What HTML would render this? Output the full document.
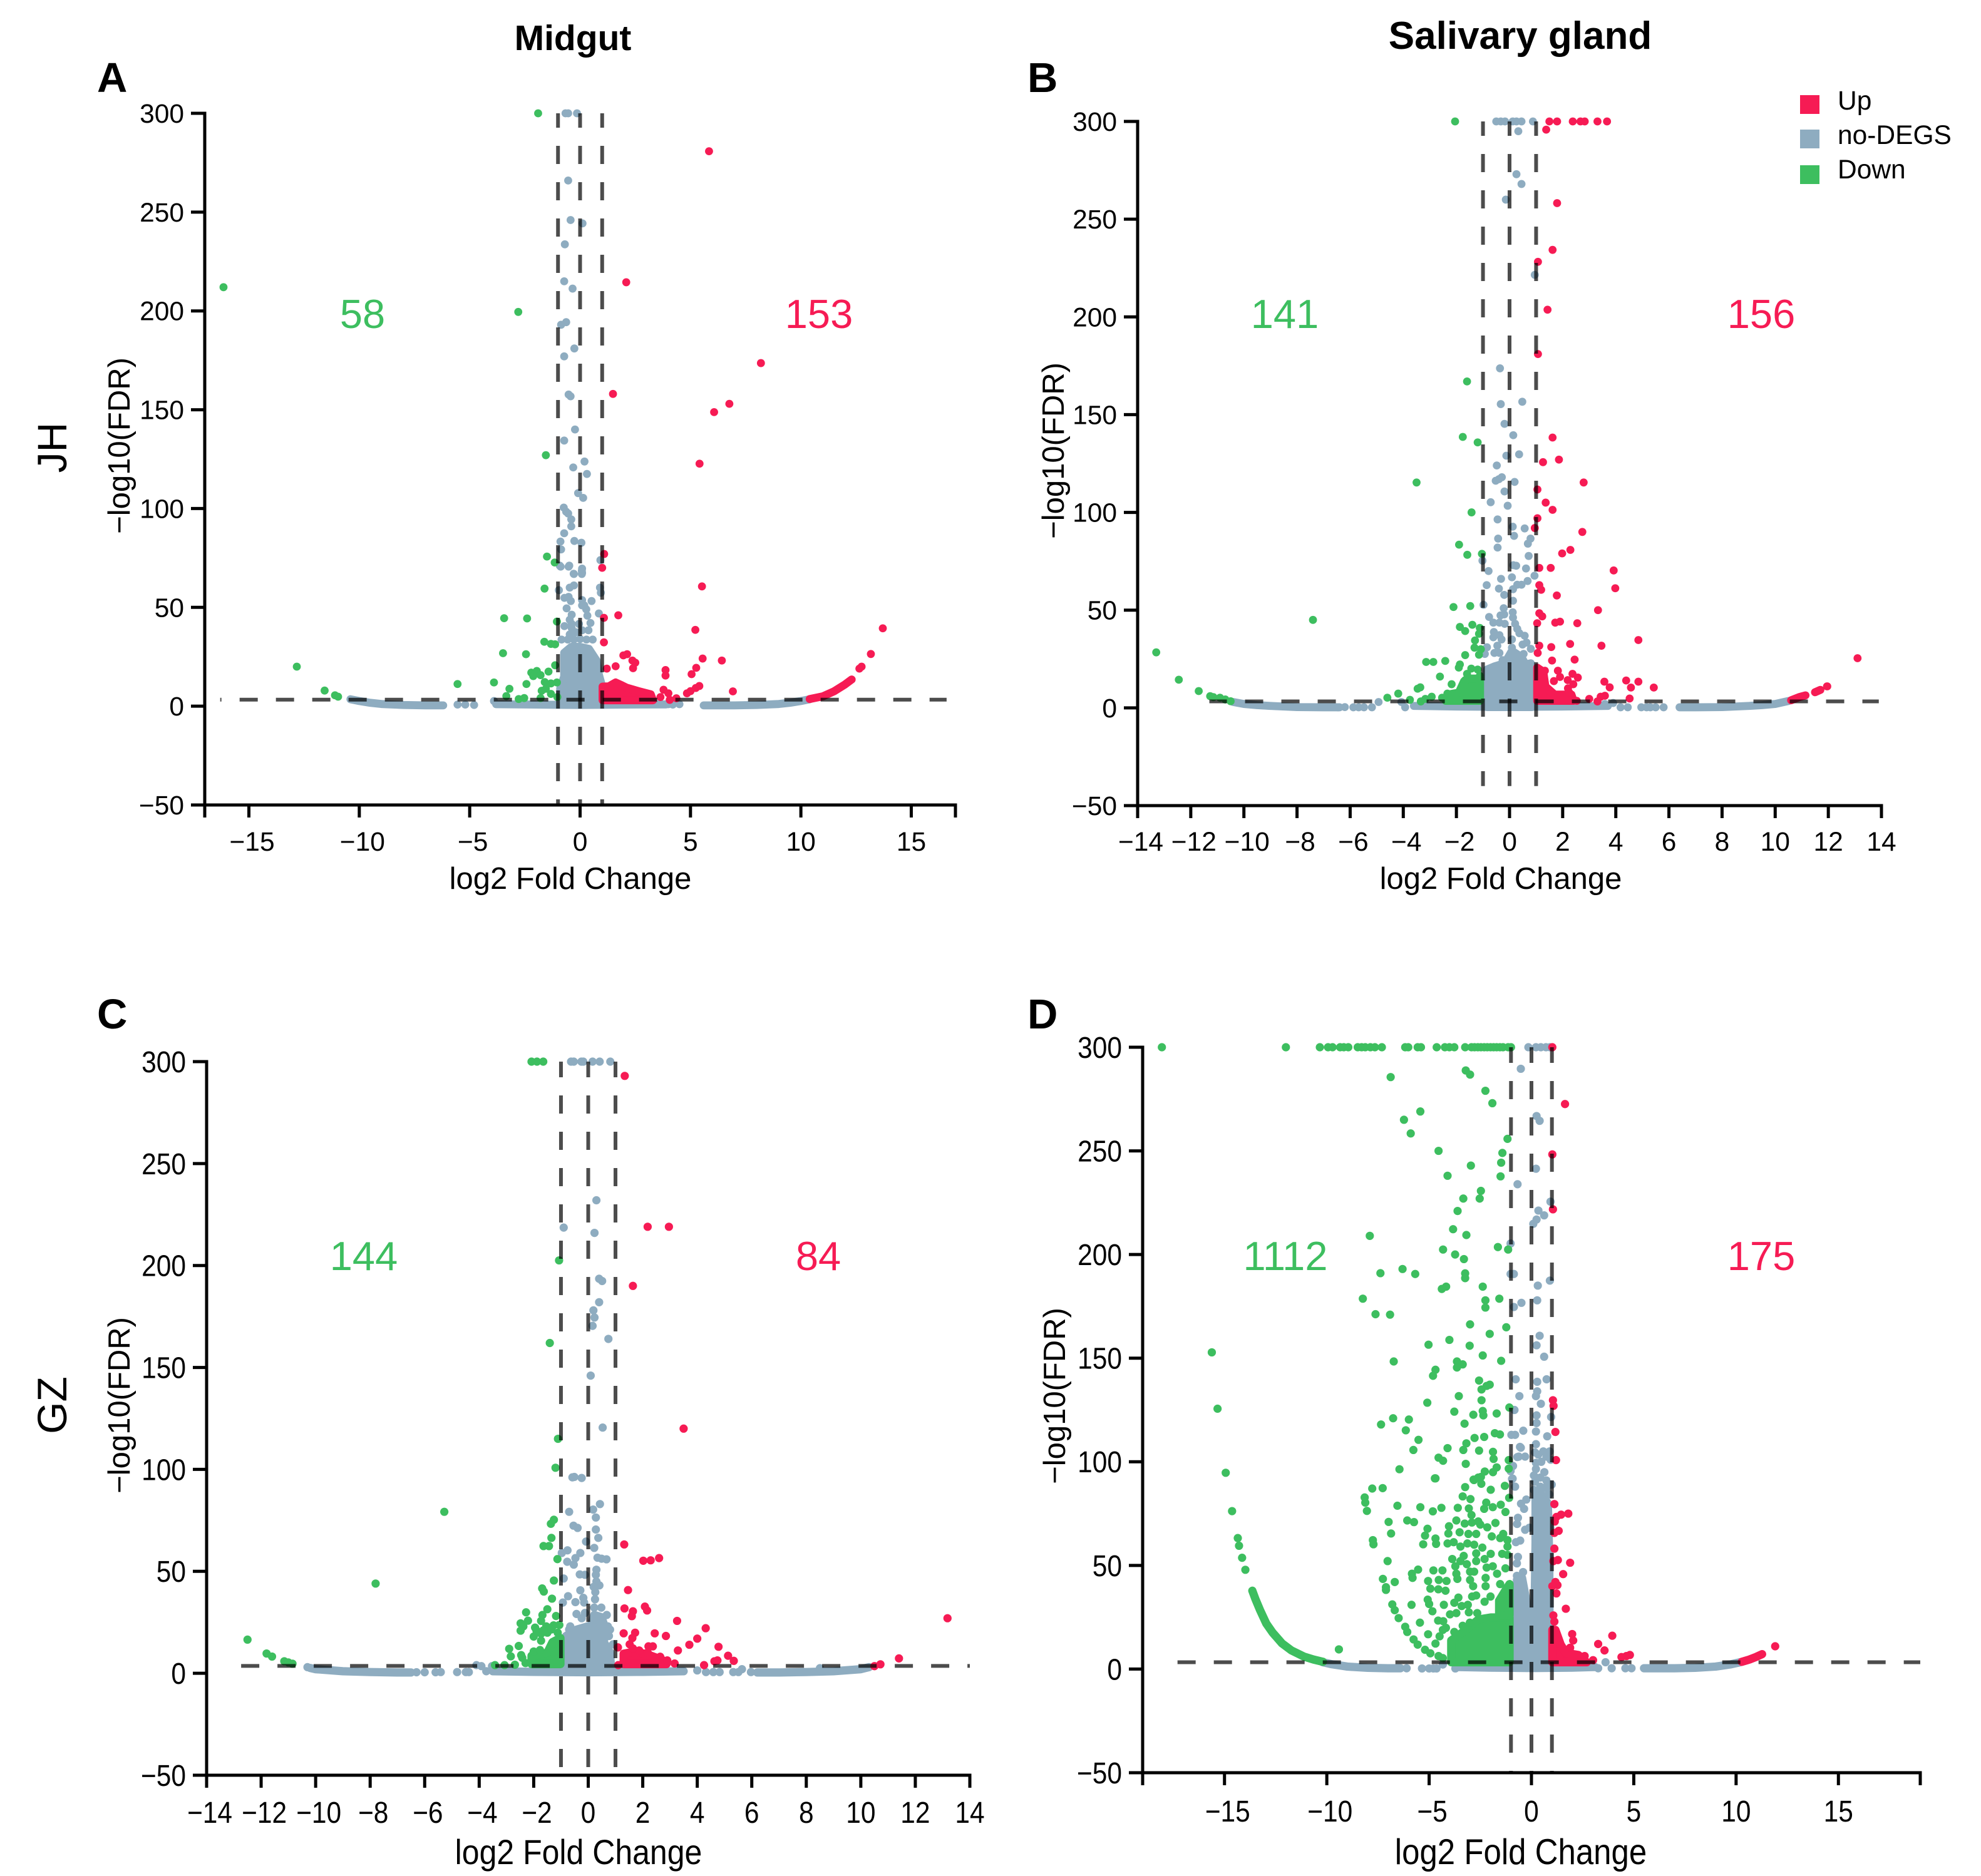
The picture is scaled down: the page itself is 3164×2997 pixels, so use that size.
<!DOCTYPE html>
<html lang="en">
<head>
<meta charset="utf-8">
<title>Volcano plots: Midgut and Salivary gland</title>
<style>
html,body{margin:0;padding:0;background:#fff;}
svg{display:block;}
text{font-family:"Liberation Sans",Arial,sans-serif;fill:#000;}
</style>
</head>
<body>
<svg id="figure" width="3164" height="2997" viewBox="0 0 3164 2997" xmlns="http://www.w3.org/2000/svg">
<rect width="3164" height="2997" fill="#fff"/>
<g id="panel-a"></g>
<g id="panel-b"></g>
<g id="panel-c"></g>
<g id="panel-d"></g>

<text x="915" y="80" font-size="57" font-weight="700" text-anchor="middle">Midgut</text>
<text x="2428" y="78" font-size="62" font-weight="700" text-anchor="middle">Salivary gland</text>
<text x="155" y="147" font-size="67" font-weight="700">A</text>
<text x="1641" y="147" font-size="67" font-weight="700">B</text>
<text x="155" y="1643" font-size="67" font-weight="700">C</text>
<text x="1641" y="1643" font-size="67" font-weight="700">D</text>
<text transform="translate(106,715) rotate(-90)" font-size="66" text-anchor="middle">JH</text>
<text transform="translate(106,2245) rotate(-90)" font-size="66" text-anchor="middle">GZ</text>

<text transform="translate(207,712) rotate(-90)" font-size="49" text-anchor="middle">&#8722;log10(FDR)</text>
<text transform="translate(1699,720) rotate(-90)" font-size="49" text-anchor="middle">&#8722;log10(FDR)</text>
<text transform="translate(207,2245) rotate(-90)" font-size="49" text-anchor="middle">&#8722;log10(FDR)</text>
<text transform="translate(1701,2230) rotate(-90)" font-size="49" text-anchor="middle">&#8722;log10(FDR)</text>

<text x="911" y="1420" font-size="49" text-anchor="middle">log2 Fold Change</text>
<text x="2397" y="1420" font-size="49" text-anchor="middle">log2 Fold Change</text>
<text transform="translate(924,2978) scale(1,1.12)" font-size="50" text-anchor="middle">log2 Fold Change</text>
<text transform="translate(2429,2978) scale(1,1.12)" font-size="51" text-anchor="middle">log2 Fold Change</text>

<g font-size="65" text-anchor="middle">
<text x="579" y="524" style="fill:#3dbe5f">58</text>
<text x="1308" y="524" style="fill:#f61b54">153</text>
<text x="2052" y="524" style="fill:#3dbe5f">141</text>
<text x="2813" y="524" style="fill:#f61b54">156</text>
<text x="581" y="2029" style="fill:#3dbe5f">144</text>
<text x="1307" y="2029" style="fill:#f61b54">84</text>
<text x="2053" y="2029" style="fill:#3dbe5f">1112</text>
<text x="2813" y="2029" style="fill:#f61b54">175</text>
</g>

<g font-size="42.5">
<g>
<rect x="2883" y="152" width="31" height="30" fill="#f61b54" transform="translate(-8,0)"/>
<text x="2935" y="175">Up</text>
</g>
<g>
<rect x="2875" y="207" width="31" height="30" fill="#8eacc0"/>
<text x="2935" y="230">no-DEGS</text>
</g>
<g>
<rect x="2875" y="264" width="31" height="30" fill="#3dbe5f"/>
<text x="2935" y="285">Down</text>
</g>
</g>
</svg>

<script>
/* ===== Shared tick values ===== */
const yTickValues = [-50, 0, 50, 100, 150, 200, 250, 300];
const yTickLabels = ['\u221250', '0', '50', '100', '150', '200', '250', '300'];
const foldChangeCutoffs = [-1, 0, 1];

/* ===== Panel A: Midgut / JH ===== */
const aXTicks = [-17, -15, -10, -5, 0, 5, 10, 15, 17];
const aXLabels = ['', '\u221215', '\u221210', '\u22125', '0', '5', '10', '15', ''];
const aFdrCutoff = 3.3;
const aCutoffSpan = [-16.3, 16.6];
const aCutoffBar = [300, -50];
const aNoneDots = [[-0.66,300],[-0.54,300],[-0.14,300],[-0.54,266],[-0.43,246],[0.11,244.3],[-0.69,233.7],[-0.72,215],[-0.34,211.3],[-0.86,193],[-0.63,194.3],[-0.26,181],[-0.72,177],[-0.52,157.7],[-0.43,156.8],[-0.23,140],[-0.72,134.4],[0.2,123.8],[-0.31,120.8],[0.31,117.5],[-0.09,107.8],[0.14,105.4],[-0.74,100.5],[-0.63,98.4],[-0.54,97.5],[-0.4,94.5],[-0.4,91],[-0.72,87.5],[-0.89,83.3],[-0.26,83.6],[0.06,82.7],[-0.86,79.3],[-0.92,71.1],[-0.49,71.1],[0.09,69.6],[0.09,67.5],[-0.29,67],[0.92,73.9],[-0.52,70.6],[-0.88,70.6],[-0.28,66.9],[0.08,68.5],[0.08,66.9],[-0.96,58.7],[0.9,60],[0.94,57.4],[-0.47,60],[-0.28,61.1],[-0.52,55.3],[-0.71,54.8],[-0.42,53.2],[0.09,53.7],[0.09,51],[0.52,53.2],[0.19,51],[0.28,49],[-0.61,49.5],[-0.38,46.3],[0.33,45.8],[0.85,46.9],[-0.47,43.7],[0.47,42.1],[-0.05,41.6],[-0.38,41.6],[-0.71,40.5],[-0.38,39.5],[0.38,38.4],[0.09,38.4],[-0.19,37.4],[-0.47,36.3],[-0.84,33.7],[-0.56,33.7],[-0.28,33.7],[0,34],[0.29,33.7],[0.57,33.7],[-5.55,0.8],[-5.2,0.8],[-4.8,0.6],[-3.9,2.6],[4,1],[4.2,0.8],[4.5,1]];
const aUpDots = [[5.84,280.8],[2.09,214.5],[8.19,173.6],[1.49,158],[6.76,153],[6.07,148.8],[5.41,122.7],[1.09,77],[1,70],[5.52,60.6],[1.08,44.7],[1.73,46],[5.22,38.6],[13.71,39.4],[1.08,32.3],[13.17,26.4],[1.96,25.7],[2.13,26.3],[2.37,23.1],[2.5,22],[2.4,19.2],[1.21,19],[1.61,20.2],[3.87,18.3],[3.87,15.5],[3.78,8.3],[4,6.5],[3.64,4.6],[4.06,3.2],[4.36,4],[4.84,6.5],[5,7.6],[5.24,9.2],[5.4,10.2],[5.05,16.2],[5.26,19.4],[5.55,24.1],[6.42,23.1],[6.92,7.5],[12.75,20],[12.65,19]];
const aDownDots = [[-1.9,300],[-16.15,212],[-2.8,199.5],[-1.55,127],[-1.5,75.7],[-1.15,72.7],[-1.61,59.5],[-3.44,44.5],[-2.4,44.4],[-1.05,42.8],[-1.62,32.6],[-1.32,31.5],[-1.13,31.3],[-3.49,26.8],[-2.45,26.3],[-12.83,20],[-1.13,20.7],[-5.55,11.2],[-3.9,12],[-3.2,8.8],[-11.57,7.9],[-11.1,5.5],[-10.96,4.8],[-3.34,5.1],[-2.78,3.6],[-2.53,4.1],[-2.21,17],[-1.96,17.8],[-2.12,15.2],[-1.79,15.7],[-1.43,17.5],[-2.43,11.2],[-1.6,12.2],[-1.32,11.5],[-1.05,12],[-1.74,7.8],[-1.55,8.8],[-1.32,6.2],[-1.03,4.6],[-1.79,4.1]];
const aNoneAreas = [[[-0.9,1],[-0.9,9],[-0.72,15],[-0.72,27],[-0.4,30],[0,30],[0.4,29],[0.75,23],[0.85,16],[1,10],[0.92,1]]];
const aUpAreas = [[[1.02,3],[1.02,9.9],[1.3,10],[1.61,12],[1.9,10.5],[2.1,9.4],[2.65,7.6],[3.2,6],[3.3,3]]];
const aDownAreas = [];
const aNoneCurves = [
  [[-10.4,3.5],[-10,2.6],[-9.5,1.7],[-9,1.1],[-8,0.6],[-7,0.4],[-6.2,0.4]],
  [[-3.8,1],[-2,0.8],[0,0.6],[2,0.8],[3.9,0.9]],
  [[5.6,0.4],[7,0.4],[8,0.6],[9,1.1],[9.5,1.7],[10,2.6],[10.4,3.5]]
];
const aUpCurves = [[[10.4,3.6],[11,5],[11.5,7.5],[12,11],[12.3,13.5]]];
const aDownCurves = [];

/* ===== Panel B: Salivary gland / JH ===== */
const bXTicks = [-14, -12, -10, -8, -6, -4, -2, 0, 2, 4, 6, 8, 10, 12, 14];
const bXLabels = ['\u221214', '\u221212', '\u221210', '\u22128', '\u22126', '\u22124', '\u22122', '0', '2', '4', '6', '8', '10', '12', '14'];
const bFdrCutoff = 3.3;
const bCutoffSpan = [-11.3, 13.9];
const bCutoffBar = [300, -40];
const bNoneDots = [[-0.5,300],[-0.33,300],[-0.17,300],[0.12,300],[0.26,300],[0.45,300],[0.88,300],[0.33,295],[0.26,273],[0.45,268],[-0.14,260],[0.95,221.5],[-0.36,173.7],[0.48,156.6],[-0.33,155.4],[-0.19,145.3],[0.14,139.5],[0.36,129.7],[-0.12,129],[-0.48,124],[0.19,115.6],[-0.52,116.2],[-0.4,117],[-0.29,118],[-0.19,110.7],[-0.71,105.2],[-0.07,103.4],[-0.45,96.4],[0.12,92.7],[0.57,91.8],[0.17,88],[-0.43,86.6],[0.79,86.6],[0.69,84],[-0.45,82],[0.72,77.7],[-1.02,75.3],[0.14,73],[0.25,72.7],[0.62,71.3],[-0.79,70],[0.94,67.6],[-0.32,66],[0.09,66.8],[0.68,64.9],[-0.86,62.8],[0.29,63],[0.45,63],[0.13,60.7],[-0.4,61],[-0.2,57.8],[0.13,54.8],[-0.98,52.7],[-0.22,51],[-0.77,46.5],[-0.34,47.3],[-0.2,47.8],[0.12,48.9],[0.13,46.2],[-0.61,43.6],[-0.38,43.6],[-0.18,43],[0.21,43],[0.29,40.4],[-0.59,38.8],[0.37,38.2],[-0.38,37.2],[0.57,36.9],[-0.61,36.1],[-0.3,35],[0.09,35],[0.64,33.4],[0.49,32.4],[-0.46,31.8],[-0.85,31],[0.09,30.8],[0.8,30.2],[-0.57,28.1],[-0.38,28.1],[-0.93,27.6],[0.53,27.6],[-0.26,24.4],[-4.93,3],[-4.07,3],[-3.93,0.3],[-6.46,0.3],[-6.2,0.4],[-5.88,0.3],[-5.68,0.3],[-5.48,0.3],[-5.18,0.3],[3.59,2],[3.9,2.5],[4.18,0.3],[4.45,0.3],[4.96,0.3],[5.16,0.3],[5.3,0.3],[5.5,0.3],[5.8,0.3]];
const bUpDots = [[1.5,300],[1.79,300],[2.38,300],[2.67,300],[2.83,300],[3.31,300],[3.67,300],[1.38,295.8],[1.79,258.2],[1.62,234.3],[1.07,228.2],[1.43,203.7],[1.07,181],[1.62,138.3],[1.26,125.7],[1.86,127],[2.79,115.3],[1.05,111.7],[1.36,105],[1.62,101.3],[1.05,97],[2.74,90],[0.95,92],[1.98,79],[2.29,80.8],[1.12,71.6],[1.55,71.6],[3.92,70.3],[3.98,61.2],[1.12,62.8],[1.19,60.4],[1.78,57.5],[3.33,50],[1.12,48.4],[1.23,46.8],[1.04,43.3],[1.72,43.6],[1.9,44.1],[2.55,43.3],[4.85,34.7],[2.28,32.7],[3.46,31.8],[1.57,31.1],[1.12,31.8],[1.06,28.1],[1.6,24.2],[2.45,24.7],[13.1,25.4],[1.82,19],[1.33,19],[1.9,15.8],[2.37,17.4],[2.57,15.5],[1.67,13.7],[2.19,14.2],[2.4,12.1],[3.57,13.4],[4.39,14],[4.85,13.4],[3.77,10.5],[4.57,10.4],[5.43,10.4],[4.52,4.8],[3.59,6.2],[3.43,5.7],[3,4.6],[3.31,3.3],[2.25,7.8],[2.53,3.6],[1.55,7.8],[2.2,10]];
const bDownDots = [[-2.05,300],[-1.6,167],[-1.76,138.6],[-1.2,135.8],[-3.5,115.3],[-1.43,100],[-1.9,83.5],[-1.59,78.3],[-1.04,78.8],[-2.11,51.6],[-1.48,52.1],[-1.87,41.4],[-1.67,39.3],[-1.4,42.5],[-1.12,40.9],[-1.15,37.9],[-1.3,34.5],[-1.32,30.8],[-1.08,30],[-1.15,27.2],[-1.67,27],[-3.14,23.5],[-2.87,23.5],[-2.42,24],[-1.87,22.2],[-1.91,20.6],[-2.62,16],[-3.36,10.5],[-3.46,9.8],[-4.19,7.3],[-4.6,5.2],[-3.75,4.1],[-3.34,3.3],[-3.17,4.6],[-2.93,5.7],[-2.54,5.2],[-2.18,12.1],[-1.44,20.1],[-1.2,19.6],[-1.6,17.4],[-1.67,14.2],[-1.12,16.4],[-2.34,7.3],[-7.4,45],[-13.3,28.4],[-12.45,14.4],[-11.7,8.6],[-11.27,6],[-11.15,5.5],[-10.9,5.2],[-10.7,4.3],[-10.5,3.4]];
const bNoneAreas = [[[-0.85,0.4],[-0.85,19.6],[-0.57,21.2],[-0.18,22.8],[0.09,29.2],[0.45,26],[0.6,22.2],[0.8,22.8],[0.84,0.4]]];
const bUpAreas = [[[1.04,3.6],[1.04,20.6],[1.27,18.5],[1.35,11],[1.7,6.8],[2.33,6.8],[2.41,3.6]]];
const bDownAreas = [[[-2.4,3.6],[-2.34,6.8],[-1.91,7.8],[-1.71,13.7],[-1.52,15],[-1.11,15],[-1.11,3.6]]];
const bNoneCurves = [
  [[-10.4,3],[-10,2],[-9.5,1.4],[-9,1],[-8,0.4],[-7,0.3],[-6.4,0.3]],
  [[-3.6,1],[-2,0.7],[0,0.5],[2,0.7],[3.7,1]],
  [[6.4,0.3],[7,0.3],[8,0.4],[9,1],[9.5,1.4],[10,2],[10.5,3.5]]
];
const bUpCurves = [[[10.6,3.9],[10.9,5.5],[11.14,6.4]],[[11.5,8],[11.7,9.2]],[[11.95,11],[11.96,11]]];
const bDownCurves = [];

/* ===== Panel C: Midgut / GZ ===== */
const cXTicks = [-14, -12, -10, -8, -6, -4, -2, 0, 2, 4, 6, 8, 10, 12, 14];
const cXLabels = ['\u221214', '\u221212', '\u221210', '\u22128', '\u22126', '\u22124', '\u22122', '0', '2', '4', '6', '8', '10', '12', '14'];
const cFdrCutoff = 3.6;
const cCutoffSpan = [-13.4, 14];
const cCutoffBar = [300, -46];
const cNoneDots = [[-0.63,300],[-0.53,300],[-0.25,300],[-0.18,300],[0.16,300],[0.42,300],[0.81,300],[0.3,232],[-0.9,218.6],[0.23,216],[0.4,193.5],[0.51,192.4],[0.4,182],[0.19,178],[0.23,174.5],[0.16,170.4],[0.74,164],[0.09,146],[0.53,120.5],[-0.58,96.1],[-0.51,96.3],[-0.24,95.8],[0.43,83],[0.18,80.3],[0.28,76.4],[-0.7,79.2],[-0.54,72.4],[-0.39,71.3],[0.28,70.5],[0.37,66.4],[-0.08,64.6],[0.22,61.5],[-0.76,60.3],[-0.97,59],[-0.29,59],[-0.47,56.5],[0.34,56.7],[0.49,56.2],[0.67,55.9],[-0.77,54.7],[-0.53,53.3],[0.3,50.8],[-0.31,48.5],[-0.12,48.3],[0.28,48.3],[-0.9,46.5],[0.3,45],[0.41,43.1],[0.2,42.4],[0.26,39.8],[-0.29,40.7],[-0.74,37.8],[-0.18,37],[0.25,36.3],[-0.47,34.9],[-0.15,34.7],[-0.93,34.7],[0.22,32.2],[0.48,32.2],[-0.12,29.6],[-0.43,29.1],[0.68,28.6],[-0.24,27],[0.72,23],[-0.66,23],[-0.7,21.5],[0.8,21.4],[0.76,18.3],[0.91,14.2],[-5.41,0.6],[-4.81,0.6],[-4.49,0.6],[-4.38,0.6],[-3.74,1],[-3.92,3.5],[-4.1,4],[-3.53,3.5],[-6.3,0.5],[-6,0.5],[-5.6,0.5],[4,1.4],[4.32,0.6],[4.59,0.6],[4.82,0.6],[5.32,0.6],[5.51,0.6],[5.64,2],[5.97,0.6],[8.5,2.5],[-10.3,3]];
const cUpDots = [[1.34,293],[2.18,219],[2.96,219],[1.64,190],[3.5,120],[1.32,63.2],[2.02,55.2],[2.29,55.4],[2.6,56.5],[1.46,40.8],[1.33,31.8],[1.64,30.4],[1.6,28],[2.08,32.7],[2.16,30.8],[3.26,25.7],[4.31,22.1],[4,17],[3.71,14],[3.29,11.2],[2.85,18.3],[2.44,19.6],[1.72,19.9],[1.3,19.6],[1.62,17.3],[1.52,14.2],[4.78,13],[5.13,8.6],[5.34,6.1],[4.74,6.3],[4.63,5.9],[4.25,4],[3.17,4.8],[2.9,6.3],[2.64,8.1],[2.37,13.2],[2.21,13.2],[2.18,10.2],[1.09,12.7],[1.1,4],[1.87,11.2],[1.64,12.2],[13.18,27],[11.4,7.3],[10.72,4.4],[10.5,3.5]];
const cDownDots = [[-2.08,300],[-1.88,300],[-1.65,300],[-1.07,202.5],[-1.41,162],[-1.11,115],[-1.2,100.8],[-5.28,79.2],[-7.8,44],[-12.5,16.5],[-11.8,9.7],[-11.6,8.2],[-11.15,5.9],[-11,5.3],[-10.85,4.7],[-1.26,75.3],[-1.37,73.3],[-1.35,66.4],[-1.64,62.4],[-1.44,62.4],[-1.13,56],[-1.26,45.5],[-1.69,41.6],[-1.63,40.1],[-1.33,36.6],[-1.5,31.4],[-2.28,29.9],[-1.68,28.6],[-1.18,28.1],[-2.21,25.8],[-1.73,25.7],[-2.48,24.5],[-2.38,23],[-2.48,20.9],[-1.95,22.4],[-1.54,23],[-1.27,23.5],[-1.06,23.7],[-2,18],[-1.73,19.4],[-1.5,19.9],[-1.12,19.9],[-1.73,16],[-2.55,13.4],[-2.9,12],[-2.84,8.3],[-2.46,8.9],[-2.42,7.6],[-2,10.7],[-1.77,11.4],[-3.42,4],[-3.07,4],[-2.69,4.2],[-2.3,5],[-1.9,21],[-1.65,21],[-1.35,21.5]];
const cNoneAreas = [[[-0.81,2],[-0.81,18.3],[-0.43,21.4],[0.11,23.5],[0.22,28.6],[0.49,27.5],[0.64,21.4],[0.57,15.3],[0.8,10.2],[0.84,2]]];
const cUpAreas = [[[1.3,4.5],[1.3,9.6],[1.72,10.7],[2.21,9.1],[2.71,6.6],[2.87,4.5]]];
const cDownAreas = [[[-2.08,4.5],[-2.08,8.6],[-1.5,10.1],[-1.31,15.3],[-1.02,17.3],[-1.02,4.5]]];
const cNoneCurves = [
  [[-10.2,2.6],[-10,2],[-9,1],[-8,0.6],[-7,0.4],[-6.5,0.4]],
  [[-3.5,1],[-2,0.7],[0,0.5],[2,0.7],[3.5,1]],
  [[6.2,0.4],[7,0.4],[8,0.6],[9,1],[10,2],[10.3,3]]
];
const cUpCurves = [];
const cDownCurves = [];

/* ===== Panel D: Salivary gland / GZ ===== */
const dXTicks = [-19, -15, -10, -5, 0, 5, 10, 15, 19];
const dXLabels = ['', '\u221215', '\u221210', '\u22125', '0', '5', '10', '15', ''];
const dFdrCutoff = 3.3;
const dCutoffSpan = [-18, 19];
const dCutoffBar = [300, -50];
const dNoneDots = [[-0.15,300],[0.22,300],[0.46,300],[0.71,300],[0.9,300],[-0.52,289.6],[0.25,266.8],[0.4,264.5],[0.22,241.4],[-0.68,233.9],[0.93,225.5],[0.34,221.2],[0.62,218.9],[0.25,216.9],[0.09,214.8],[-1.02,205.3],[-1.02,190.6],[-0.86,190.6],[0.9,187.4],[0.31,185],[0.28,177.9],[-0.49,176.7],[-0.86,174.7],[0.4,160.8],[0.25,156.2],[0.62,150.7],[-0.77,139.8],[0.28,138.6],[0.74,139.8],[0.28,134],[-0.59,131.7],[0.22,131.7],[0.46,128],[-0.83,125],[0.96,121.6],[0.25,122.4],[0.25,118.7],[0.22,114.6],[-0.4,115],[-0.8,113],[-0.98,113],[0.77,112.3],[0.22,108.5],[-0.52,106.8],[-0.62,102.5],[-0.31,102.5],[0.58,105],[0.89,105],[0.17,104.5],[0.33,103.5],[0.73,102.5],[0.22,99.5],[0.48,100],[0.94,101],[0.22,96.5],[0.63,95],[0.12,93.4],[0.43,92.4],[0.73,91],[0.99,89],[0.17,90.4],[0.43,88],[0.12,86.4],[0.73,87.4],[0.84,84.4],[-0.56,107.2],[-0.69,102.3],[-0.9,98],[-1.02,95.5],[-0.95,91.7],[-0.92,91.9],[0.87,84.3],[0.76,88.4],[-0.8,88],[-0.51,79.8],[-0.25,81.8],[-0.36,77.3],[-0.66,73],[-0.7,70],[-0.31,67.2],[-0.1,68.2],[0.92,68.2],[0.76,66.7],[-0.76,61.2],[-0.55,62],[-0.66,54.1],[-0.71,51],[-0.41,46.8],[-0.71,45],[-0.6,40],[-6.1,0.4],[-5.35,0.3],[-5,0.3],[-4.79,0.3],[-4.64,0.3],[-3.72,0.3],[-4.33,2.2],[3.26,0.4],[3.62,3.3],[3.92,0.4],[4.59,0.4],[4.89,0.4]];
const dUpDots = [[1.02,300],[1.64,272.6],[1.02,248.3],[1.05,221.8],[1.05,129.7],[1.08,127],[1.17,114.4],[1.2,100.8],[1.12,79.6],[1.8,75],[1.45,74.5],[1.22,73.4],[1.14,71.2],[1.33,66.7],[1.12,65.7],[1.12,58.1],[1.29,52.6],[1.07,52.1],[1.89,51.3],[1.55,45.8],[1.17,42],[1.27,40.5],[1.02,40],[1.22,36.5],[1.68,29.1],[1.07,25.9],[1.12,22.9],[1.99,16.9],[2.04,13.8],[3.95,16.1],[3.26,12.1],[3.57,9],[4.81,6.8],[4.64,6.3],[4.4,5.8],[3.01,4.3],[2.6,6.3],[1.89,10.3],[11.91,11]];
const dDownDots = [[-18.06,300],[-12,300],[-10.34,300],[-9.94,300],[-9.72,300],[-9.35,300],[-9.17,300],[-8.95,300],[-8.49,300],[-8.3,300],[-8.12,300],[-7.87,300],[-7.65,300],[-7.31,300],[-6.17,300],[-6.02,300],[-5.56,300],[-5.4,300],[-4.63,300],[-4.23,300],[-4.01,300],[-3.77,300],[-3.24,300],[-2.93,300],[-2.78,300],[-2.62,300],[-2.47,300],[-2.31,300],[-2.16,300],[-2,300],[-1.85,300],[-1.7,300],[-1.54,300],[-1.39,300],[-1.14,300],[-1,300],[-3.21,288.8],[-3,286.8],[-6.88,285.6],[-2.25,279],[-1.91,273],[-6.23,265],[-5.43,269],[-5.9,258.4],[-1.17,255.8],[-4.54,250],[-1.42,249],[-1.48,244.3],[-2.96,242.9],[-1.51,237.7],[-4.1,238],[-2.47,230.7],[-3.33,227],[-2.53,227],[-3.61,221],[-3.83,212.2],[-3.18,209.4],[-7.9,209],[-4.32,202.4],[-1.64,203.6],[-1.14,202.4],[-3.73,200],[-3.3,197.8],[-6.3,193],[-7.38,191],[-5.68,190.6],[-3.24,190.9],[-3.24,188.6],[-2.38,184.5],[-4.17,184.5],[-4.38,183.4],[-8.24,178.7],[-1.57,178.7],[-2.25,177.9],[-2.25,174.4],[-7.62,171.2],[-6.91,171],[-3,166.3],[-1.23,164.9],[-2.04,161.7],[-4.01,158.8],[-5.03,156.5],[-3.02,156],[-2.38,151.3],[-15.62,152.8],[-6.73,148.4],[-3.64,148.4],[-1.48,148.7],[-3.36,147],[-3.64,145.5],[-4.69,144.4],[-4.81,141.5],[-2.56,139.2],[-2.04,137.2],[-2.19,136.6],[-2.44,134.9],[-3.55,131.7],[-2.44,129.7],[-1.08,126.2],[-15.34,125.6],[-5.09,128.5],[-3.77,124.2],[-2.84,122.7],[-2.38,124.5],[-2.35,122.4],[-1.7,123.3],[-6.76,121],[-5.99,120.4],[-7.35,118],[-3.27,118.4],[-6.14,115.2],[-1.79,113.8],[-1.54,113.2],[-2.78,111.5],[-2.31,112],[-5.52,110.6],[-3.18,108.9],[-3.33,105.7],[-2.56,105.4],[-4.1,106.6],[-5.77,105.7],[-1.88,104.8],[-4.54,102],[-4.32,100.5],[-3.21,99],[-1.85,101.4],[-1.11,100.8],[-6.45,96.4],[-2.28,95.3],[-1.88,95],[-1.7,97.3],[-1.11,96.7],[-4.69,92],[-2.81,91.2],[-2.47,92.7],[-4.72,92],[-7.78,87.1],[-7.27,87.3],[-8.15,82.8],[-8.12,80.3],[-8.04,76.3],[-3.24,87.8],[-2.83,91.4],[-2.6,92.4],[-2.45,89.4],[-1.99,86.5],[-1.3,88.4],[-1.09,82.6],[-3.36,83.3],[-2.98,82],[-2.21,80.3],[-1.89,78.1],[-1.5,79.3],[-2.31,77.3],[-1.27,75.8],[-6.55,78.8],[-5.43,78.1],[-4.82,76.1],[-4.4,77.8],[-3.6,77.8],[-3.06,77.5],[-2.93,74.3],[-3.67,71.7],[-3.26,70.2],[-2.91,70.7],[-2.6,71.2],[-2.5,69.7],[-2.16,68.4],[-1.76,70.5],[-6.98,71],[-6.07,71.7],[-5.74,70.9],[-5.08,67.7],[-5.2,64.4],[-4.03,68.9],[-4.06,65.4],[-3.51,66],[-3.08,65.2],[-2.7,65.2],[-1.94,64],[-6.86,65.4],[-1.38,65.2],[-1.53,63.2],[-1.17,62.2],[-7.75,62.2],[-7.72,60.2],[-5.29,60.2],[-4.69,63],[-4.66,60.4],[-4.1,60.6],[-3.8,61.2],[-3.47,59.1],[-3.13,60.6],[-2.8,60],[-2.4,58.6],[-1.17,59.1],[-7.03,52.1],[-3.87,53.1],[-3.31,54.6],[-2.7,55.8],[-1.99,55.6],[-1.43,55.6],[-1.17,55.1],[-3.47,52.1],[-2.7,52.1],[-2.29,53.1],[-2.19,49],[-3.16,50.6],[-1.89,49.6],[-1.27,48.6],[-3.72,49.6],[-5.54,48],[-5.84,46],[-5.81,44],[-7.26,43.5],[-6.68,42],[-7.11,39.5],[-7.11,38.2],[-4.79,47.6],[-4.35,47.6],[-5.05,42.5],[-4.53,43],[-4.15,42.5],[-4.94,38.8],[-4.55,38.5],[-4.2,37.8],[-3.67,46],[-3.62,43.5],[-3,47],[-2.8,47],[-3,43],[-2.85,40],[-2.24,44],[-1.68,46],[-1.53,41],[-2.24,40],[-3.57,34.5],[-2.9,35],[-2.7,35.5],[-2.29,32.5],[-2,35],[-5.07,33.5],[-5,31.4],[-5.86,31],[-4.28,31],[-3.77,32],[-3.41,30.4],[-3.11,31],[-4.84,27.9],[-3.98,26.4],[-3.67,27],[-3.06,27.4],[-2.65,27],[-6.8,31.2],[-6.68,28.4],[-6.49,24.6],[-5.45,22.4],[-4.56,23.4],[-4.31,23.1],[-4.18,19.9],[-4.33,18.9],[-3.36,20.9],[-3.01,22.4],[-3.77,17.9],[-4.49,15.8],[-5.05,16.8],[-6.17,20.4],[-6.07,17.9],[-5.76,14.3],[-5.56,11.8],[-5.2,9.3],[-4.94,7.6],[-4.69,12.3],[-4.54,6.3],[-4.33,5.3],[-9.41,9.5],[-14.94,94.7],[-14.63,76.2],[-14.35,63.2],[-14.29,59.5],[-14.14,53.7],[-13.98,47.9]];
const dNoneAreas = [[[-0.71,1.7],[-0.71,43],[-0.46,44],[-0.25,33],[-0.2,25],[0.15,25],[0.2,61],[0.2,85],[0.45,85],[0.8,80],[0.85,61],[0.87,55],[0.89,1.7]]];
const dUpAreas = [[[1.02,3.3],[1.02,18.9],[1.17,18.9],[1.43,11.8],[1.68,7.8],[2.29,6.8],[2.7,3.3]]];
const dDownAreas = [[[-3.92,3.3],[-3.92,13.8],[-3.21,18.9],[-2.6,23.9],[-1.99,24.9],[-1.07,24.9],[-1.07,3.3]],[[-1.58,25.9],[-1.58,33],[-1.27,38],[-1.07,41],[-1.07,25.9]]];
const dNoneCurves = [
  [[-10.2,3.3],[-9.8,2.4],[-9,1.2],[-8,0.6],[-7,0.4],[-6.4,0.4]],
  [[-3.6,1],[-2,0.7],[0,0.5],[2,0.7],[3.1,1]],
  [[5.5,0.4],[7,0.4],[8,0.6],[9,1.2],[9.7,2.2],[10.2,3.3]]
];
const dUpCurves = [[[10.28,3.5],[10.65,4.6],[10.96,5.8],[11.27,7.2]]];
const dDownCurves = [[[-13.64,37.8],[-13.49,33.8],[-13.27,28.6],[-12.96,22],[-12.65,17.6],[-12.19,12.4],[-11.73,9],[-11.11,6],[-10.65,4.6],[-10.19,3.5]]];

/* ===== Drawing ===== */
const SVG_NS = 'http://www.w3.org/2000/svg';
const COLORS = { none: '#8eacc0', up: '#f61b54', down: '#3dbe5f', rule: 'rgba(0,0,0,0.7)' };

function make(parent, tag, attrs) {
  const el = document.createElementNS(SVG_NS, tag);
  for (const k in attrs) el.setAttribute(k, attrs[k]);
  parent.appendChild(el);
  return el;
}

function drawDots(group, dots, color, r, sx, sy) {
  dots.forEach(function (d) {
    const dot = make(group, 'circle', { cx: sx(d[0]), cy: sy(d[1]), r: r, fill: color });
    
    
  });
}

function drawAreas(group, areas, color, r, sx, sy) {
  areas.forEach(function (a) {
    const pts = a.map(function (d) { return sx(d[0]) + ',' + sy(d[1]); }).join(' ');
    const area = make(group, 'polygon', { points: pts, fill: color, stroke: color, 'stroke-width': r * 2, 'stroke-linejoin': 'round' });
    
    
  });
}

function drawCurves(group, curves, color, r, sx, sy) {
  curves.forEach(function (c) {
    const pts = c.map(function (d) { return sx(d[0]) + ',' + sy(d[1]); }).join(' ');
    const curve = make(group, 'polyline', { points: pts, fill: 'none', stroke: color, 'stroke-width': r * 2, 'stroke-linecap': 'round', 'stroke-linejoin': 'round' });
    
    
  });
}

function drawPanel(p) {
  const g = document.getElementById(p.id);
  const sx = function (v) { return p.left + (v - p.xMin) / (p.xMax - p.xMin) * (p.right - p.left); };
  const sy = function (v) { return p.top + (300 - v) / 350 * (p.bottom - p.top); };

  drawCurves(g, p.noneCurves, COLORS.none, p.r, sx, sy);
  drawAreas(g, p.noneAreas, COLORS.none, p.r, sx, sy);
  drawDots(g, p.noneDots, COLORS.none, p.r, sx, sy);
  drawCurves(g, p.upCurves, COLORS.up, p.r, sx, sy);
  drawAreas(g, p.upAreas, COLORS.up, p.r, sx, sy);
  drawDots(g, p.upDots, COLORS.up, p.r, sx, sy);
  drawCurves(g, p.downCurves, COLORS.down, p.r, sx, sy);
  drawAreas(g, p.downAreas, COLORS.down, p.r, sx, sy);
  drawDots(g, p.downDots, COLORS.down, p.r, sx, sy);

  const hRule = make(g, 'line', { x1: sx(p.cutoffSpan[0]), x2: sx(p.cutoffSpan[1]), y1: sy(p.fdrCutoff), y2: sy(p.fdrCutoff), stroke: COLORS.rule, 'stroke-width': 6, 'stroke-dasharray': '29 29', 'stroke-dashoffset': p.hDashOffset });
  
  
  foldChangeCutoffs.forEach(function (fc) {
    const vRule = make(g, 'line', { x1: sx(fc), x2: sx(fc), y1: sy(p.cutoffBar[0]), y2: sy(p.cutoffBar[1]), stroke: COLORS.rule, 'stroke-width': 6, 'stroke-dasharray': '29 29', 'stroke-dashoffset': p.vDashOffset });
    
    
  });

  const yAxis = make(g, 'line', { x1: p.left, x2: p.left, y1: p.top - 2.5, y2: p.bottom + 2.5, stroke: '#000', 'stroke-width': 5 });
  
  
  const xAxis = make(g, 'line', { x1: p.left, x2: p.right + 2.5, y1: p.bottom, y2: p.bottom, stroke: '#000', 'stroke-width': 5 });
  
  

  yTickValues.forEach(function (v, i) {
    const tick = make(g, 'line', { x1: p.left - 22, x2: p.left, y1: sy(v), y2: sy(v), stroke: '#000', 'stroke-width': 5 });
    
    
    const label = make(g, 'text', { transform: 'translate(' + (p.left - 33) + ',' + (sy(v) + 15 * p.stretch) + ') scale(1,' + p.stretch + ')', 'font-size': 42.5, 'text-anchor': 'end' });
    label.textContent = yTickLabels[i];
    
    
  });

  p.xTicks.forEach(function (v, i) {
    const tick = make(g, 'line', { x1: sx(v), x2: sx(v), y1: p.bottom, y2: p.bottom + 20, stroke: '#000', 'stroke-width': 5 });
    
    
    if (p.xLabels[i] !== '') {
      const shift = v < 0 ? 5 : 0;
      const label = make(g, 'text', { transform: 'translate(' + (sx(v) + shift) + ',' + p.xLabelY + ') scale(1,' + p.stretch + ')', 'font-size': 42.5, 'text-anchor': 'middle' });
      label.textContent = p.xLabels[i];
      
      
    }
  });
}

const panels = [
  { id: 'panel-a', left: 327, right: 1526, top: 181, bottom: 1286, xMin: -17, xMax: 17, r: 6.4, stretch: 1, xLabelY: 1359, hDashOffset: 27, vDashOffset: 6,
    xTicks: aXTicks, xLabels: aXLabels, fdrCutoff: aFdrCutoff, cutoffSpan: aCutoffSpan, cutoffBar: aCutoffBar,
    noneDots: aNoneDots, upDots: aUpDots, downDots: aDownDots, noneAreas: aNoneAreas, upAreas: aUpAreas, downAreas: aDownAreas,
    noneCurves: aNoneCurves, upCurves: aUpCurves, downCurves: aDownCurves },
  { id: 'panel-b', left: 1817, right: 3005, top: 194, bottom: 1287, xMin: -14, xMax: 14, r: 6.4, stretch: 1, xLabelY: 1359, hDashOffset: 1, vDashOffset: 6,
    xTicks: bXTicks, xLabels: bXLabels, fdrCutoff: bFdrCutoff, cutoffSpan: bCutoffSpan, cutoffBar: bCutoffBar,
    noneDots: bNoneDots, upDots: bUpDots, downDots: bDownDots, noneAreas: bNoneAreas, upAreas: bUpAreas, downAreas: bDownAreas,
    noneCurves: bNoneCurves, upCurves: bUpCurves, downCurves: bDownCurves },
  { id: 'panel-c', left: 330, right: 1549, top: 1696, bottom: 2836, xMin: -14, xMax: 14, r: 6.6, stretch: 1.13, xLabelY: 2912, hDashOffset: 29, vDashOffset: 4,
    xTicks: cXTicks, xLabels: cXLabels, fdrCutoff: cFdrCutoff, cutoffSpan: cCutoffSpan, cutoffBar: cCutoffBar,
    noneDots: cNoneDots, upDots: cUpDots, downDots: cDownDots, noneAreas: cNoneAreas, upAreas: cUpAreas, downAreas: cDownAreas,
    noneCurves: cNoneCurves, upCurves: cUpCurves, downCurves: cDownCurves },
  { id: 'panel-d', left: 1825, right: 3067, top: 1673, bottom: 2832, xMin: -19, xMax: 19, r: 6.6, stretch: 1.13, xLabelY: 2910, hDashOffset: 35, vDashOffset: 4,
    xTicks: dXTicks, xLabels: dXLabels, fdrCutoff: dFdrCutoff, cutoffSpan: dCutoffSpan, cutoffBar: dCutoffBar,
    noneDots: dNoneDots, upDots: dUpDots, downDots: dDownDots, noneAreas: dNoneAreas, upAreas: dUpAreas, downAreas: dDownAreas,
    noneCurves: dNoneCurves, upCurves: dUpCurves, downCurves: dDownCurves }
];
panels.forEach(drawPanel);
</script>
</body>
</html>
